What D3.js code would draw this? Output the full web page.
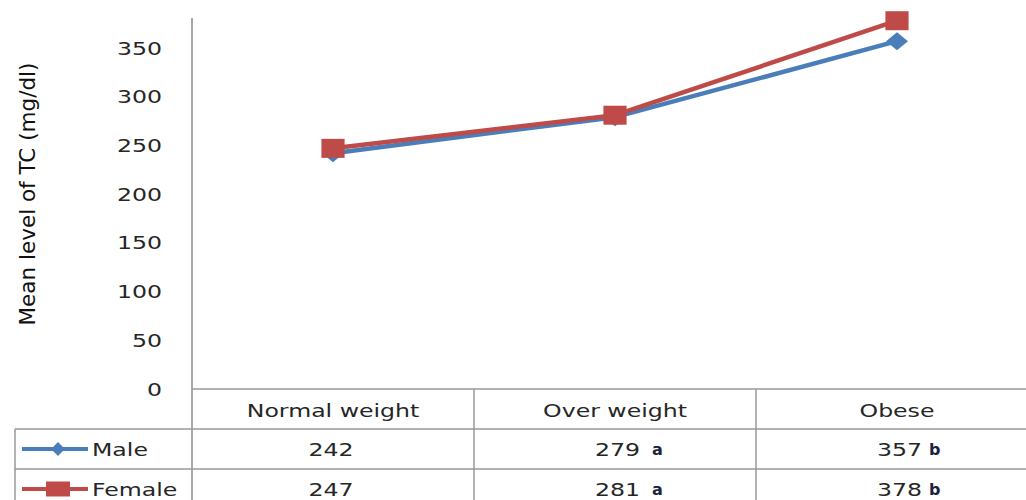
<!DOCTYPE html>
<html>
<head>
<meta charset="utf-8">
<script src="https://cdn.jsdelivr.net/npm/d3@7"></script>
<style>
  body { margin: 0; background: #fff; }
  svg text { font-family: "DejaVu Sans", sans-serif; fill: #262626; }
</style>
</head>
<body>
<div id="chart"></div>
<script>
// ---------- data ---------- //
var categories = ["Normal weight", "Over weight", "Obese"];
var maleValues = [242, 279, 357];
var femaleValues = [247, 281, 378];
var maleMarks = ["", "a", "b"];
var femaleMarks = ["", "a", "b"];
var yTicks = [0, 50, 100, 150, 200, 250, 300, 350];

var series = [
  {name: "Male", values: maleValues, marks: maleMarks, color: "#4a7ebb", rot: 45, size: 162, sx: 1.22, legSize: 95, legSx: 1},
  {name: "Female", values: femaleValues, marks: femaleMarks, color: "#be4b48", rot: 0, size: 361, sx: 1.22, legSize: 225, legSx: 1.6}
];

var width = 1026, height = 500;
var plotLeft = 192, colW = 282, plotTop = 18;
var rowH = 40;

var svg = d3.select("#chart").append("svg")
  .attr("width", width)
  .attr("height", height);

var x = d3.scaleBand()
  .domain(categories)
  .range([plotLeft, plotLeft + colW * categories.length]);

var y = d3.scaleLinear()
  .domain([0, 350])
  .range([389, 48]);

var base = y(0);
var xStretch = 1.35;

// stretched text helper (the original picture is widened)
var stretchText = function(g, tx, ty, str, size, anchor) {
  return g.append("text")
    .attr("transform", "translate(" + tx + "," + ty + ") scale(" + xStretch + ",1)")
    .attr("text-anchor", anchor || "middle")
    .attr("font-size", size)
    .text(str);
};

var cx = function(j) { return x(categories[j]) + colW / 2; };

// ---------- axis ---------- //
var gAxis = svg.append("g");
gAxis.append("line")
  .attr("x1", plotLeft).attr("x2", plotLeft)
  .attr("y1", plotTop).attr("y2", height)
  .attr("stroke", "#8c8c8c").attr("stroke-width", 1.5);

yTicks.forEach(function(t) {
  stretchText(gAxis, 162, y(t) + 6.5, t, 17.5, "end");
});

svg.append("text")
  .attr("transform", "translate(35,194) rotate(-90)")
  .attr("text-anchor", "middle")
  .attr("font-family", "Open Sans")
  .attr("font-size", 21.5)
  .style("fill", "#111")
  .text("Mean level of TC (mg/dl)");

// ---------- data table ---------- //
var gTable = svg.append("g")
  .attr("stroke", "#999")
  .attr("stroke-width", 1.5);

var tableRight = plotLeft + colW * categories.length;
gTable.append("line").attr("x1", plotLeft).attr("x2", tableRight).attr("y1", base).attr("y2", base);
[1, 2].forEach(function(r) {
  gTable.append("line").attr("x1", 15).attr("x2", tableRight)
    .attr("y1", base + rowH * r).attr("y2", base + rowH * r);
});
gTable.append("line").attr("x1", 15).attr("x2", 15).attr("y1", base + rowH).attr("y2", height);
categories.forEach(function(c) {
  gTable.append("line")
    .attr("x1", x(c) + colW).attr("x2", x(c) + colW)
    .attr("y1", base).attr("y2", height);
});

var gText = svg.append("g");
categories.forEach(function(c, j) {
  stretchText(gText, cx(j), base + 28, c, 17.5);
});

series.forEach(function(s, i) {
  var ry = base + rowH * (i + 1) + 27;
  s.values.forEach(function(v, j) {
    var mx = cx(j);
    if (s.marks[j]) {
      stretchText(gText, mx + 25, ry, v, 17.5, "end");
      gText.append("text")
        .attr("x", mx + (j == 1 ? 37 : 32))
        .attr("y", ry - 1)
        .attr("font-size", 16)
        .attr("font-weight", "bold")
        .attr("font-family", "DejaVu Sans Mono")
        .style("fill", "#1c2340")
        .text(s.marks[j]);
    } else {
      stretchText(gText, mx - 2, ry, v, 17.5);
    }
  });
  // legend key
  var ly = base + rowH * (i + 1) + rowH / 2;
  svg.append("line")
    .attr("x1", 22).attr("x2", 88).attr("y1", ly).attr("y2", ly)
    .attr("stroke", s.color).attr("stroke-width", 4);
  svg.append("path")
    .attr("d", d3.symbol().type(d3.symbolSquare).size(s.legSize))
    .attr("transform", "translate(58," + ly + ") scale(" + s.legSx + ",1) rotate(" + s.rot + ")")
    .attr("fill", s.color);
  stretchText(svg, 92, ly + 7, s.name, 17.5, "start");
});

// ---------- lines ---------- //
var line = d3.line()
  .x(function(d, j) { return cx(j); })
  .y(function(d) { return y(d); });

series.forEach(function(s) {
  svg.append("path")
    .datum(s.values)
    .attr("d", line)
    .attr("fill", "none")
    .attr("stroke", s.color)
    .attr("stroke-width", 4.5)
    .attr("stroke-linejoin", "round");

  svg.append("g")
    .selectAll("path")
    .data(s.values)
    .join("path")
    .attr("d", d3.symbol().type(d3.symbolSquare).size(s.size))
    .attr("transform", function(d, j) {
      return "translate(" + cx(j) + "," + y(d) + ") scale(" + s.sx + ",1) rotate(" + s.rot + ")";
    })
    .attr("fill", s.color);
});
</script>
</body>
</html>
